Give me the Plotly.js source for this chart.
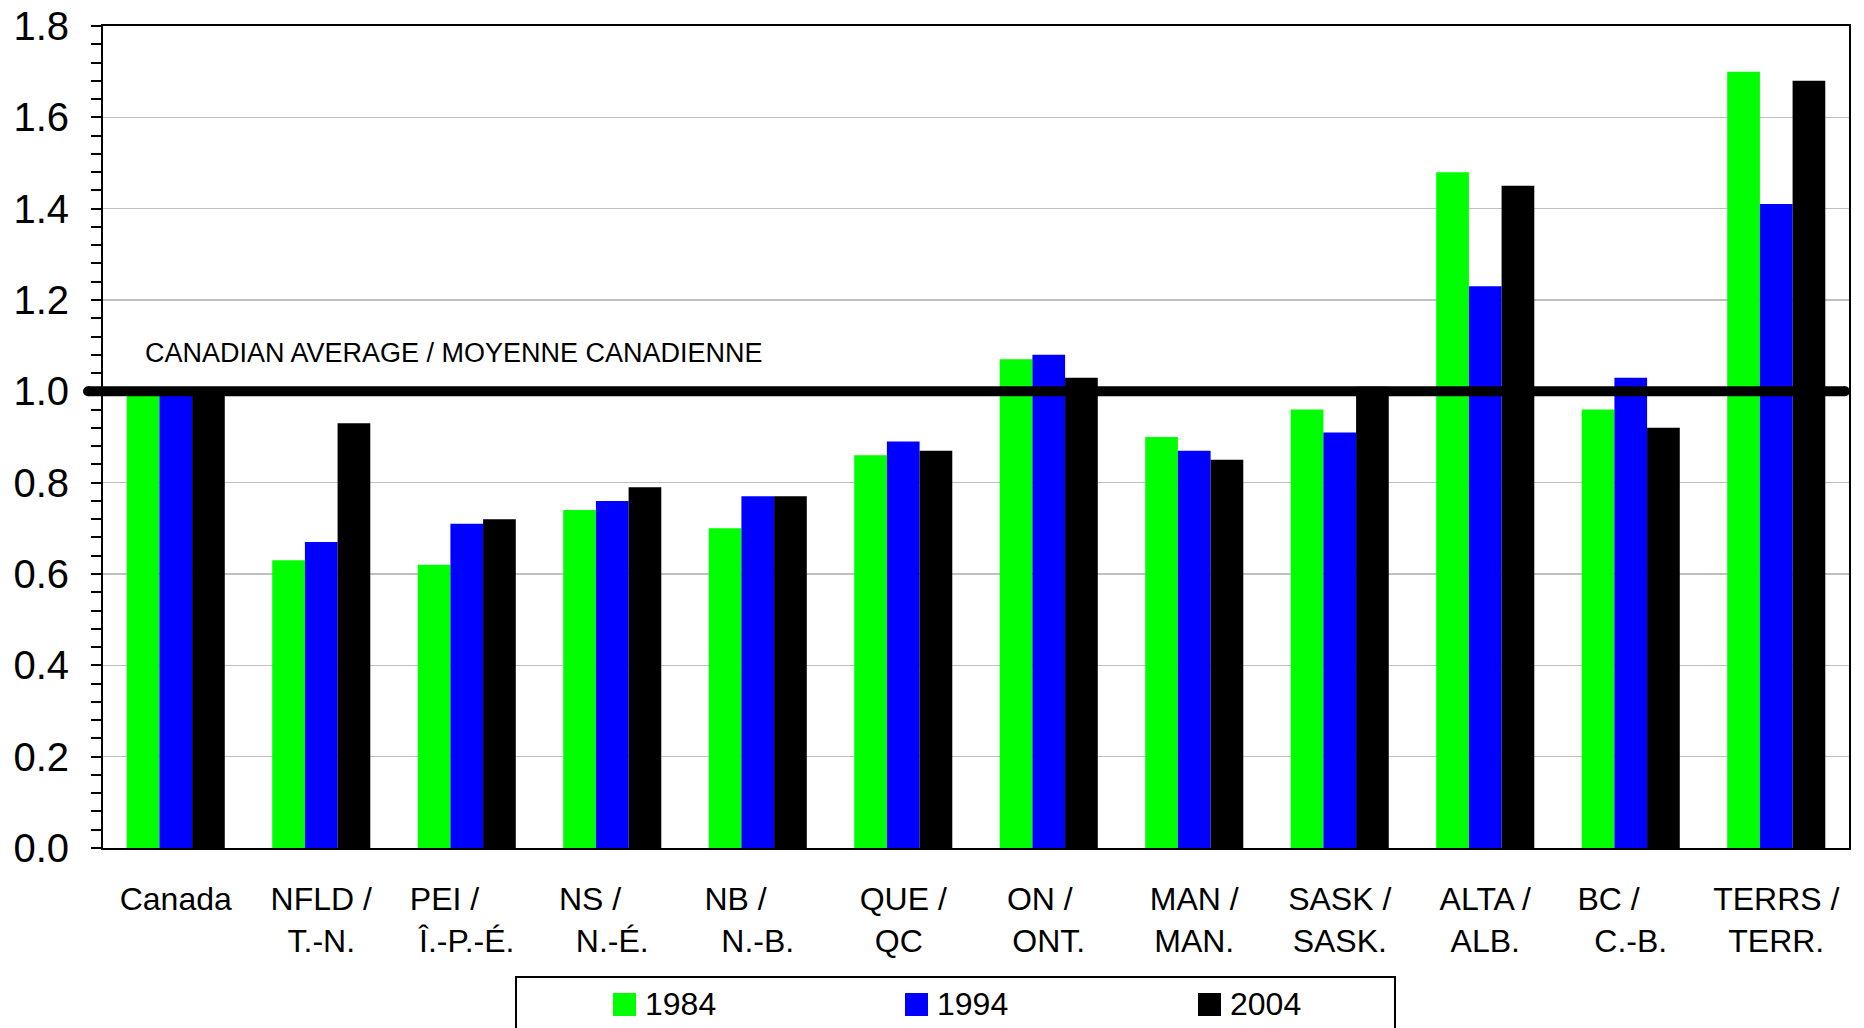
<!DOCTYPE html>
<html>
<head>
<meta charset="utf-8">
<script src="https://cdn.plot.ly/plotly-3.0.1.min.js"></script>
<style>
  html, body { margin: 0; padding: 0; background: #ffffff; }
  #chart { width: 1864px; height: 1028px; }
</style>
</head>
<body>
<div id="chart"></div>
<script>
// ---- data ----
var NB = '\u00a0';
var categories = [
  'Canada',
  'NFLD /<br>T.-N.',
  'PEI /' + NB.repeat(5) + '<br>Î.-P.-É.',
  'NS /' + NB.repeat(5) + '<br>N.-É.',
  'NB /' + NB.repeat(5) + '<br>N.-B.',
  'QUE /<br>QC' + NB.repeat(1),
  'ON /' + NB.repeat(2) + '<br>ONT.',
  'MAN /<br>MAN.',
  'SASK /<br>SASK.',
  'ALTA /<br>ALB.',
  'BC /' + NB.repeat(5) + '<br>C.-B.',
  'TERRS /<br>TERR.'
];
var seriesNames = ['1984', '1994', '2004'];
var v1984 = [1.00, 0.63, 0.62, 0.74, 0.70, 0.86, 1.07, 0.90, 0.96, 1.48, 0.96, 1.70];
var v1994 = [1.00, 0.67, 0.71, 0.76, 0.77, 0.89, 1.08, 0.87, 0.91, 1.23, 1.03, 1.41];
var v2004 = [1.00, 0.93, 0.72, 0.79, 0.77, 0.87, 1.03, 0.85, 1.01, 1.45, 0.92, 1.68];
var averageValue = 1.0;
var averageLabel = 'CANADIAN AVERAGE / MOYENNE CANADIENNE';
var yTickVals = [0, 0.2, 0.4, 0.6, 0.8, 1.0, 1.2, 1.4, 1.6, 1.8];

// ---- styling / layout ----
var colors = ['#00ff00', '#0000ff', '#000000'];
var FONT = 'Liberation Sans, Arial, Helvetica, sans-serif';
var W = 1864, H = 1028;
var M = {l: 103, r: 15, t: 26, b: 180};
var PW = W - M.l - M.r, PH = H - M.t - M.b;
function px2x(px) { return (px - M.l) / PW; }
function px2y(py) { return (H - M.b - py) / PH; }

var allSeries = [v1984, v1994, v2004];
var traces = allSeries.map(function (vals, i) {
  return {
    type: 'bar',
    name: seriesNames[i],
    x: categories,
    y: vals,
    marker: {color: colors[i], line: {width: 0}},
    showlegend: false,
    hoverinfo: 'x+y+name'
  };
});

var shapes = [
  // average line
  {type: 'line', xref: 'paper', yref: 'y', x0: px2x(88), x1: px2x(1845),
   y0: averageValue, y1: averageValue, line: {color: '#000000', width: 10}, layer: 'above'},
  {type: 'circle', xref: 'paper', yref: 'y', xsizemode: 'pixel', ysizemode: 'pixel',
   xanchor: px2x(88), yanchor: averageValue, x0: -5, x1: 5, y0: -5, y1: 5,
   fillcolor: '#000000', line: {width: 0}, layer: 'above'},
  {type: 'circle', xref: 'paper', yref: 'y', xsizemode: 'pixel', ysizemode: 'pixel',
   xanchor: px2x(1845), yanchor: averageValue, x0: -5, x1: 5, y0: -5, y1: 5,
   fillcolor: '#000000', line: {width: 0}, layer: 'above'},
  // legend box
  {type: 'rect', xref: 'paper', yref: 'paper', x0: px2x(516), x1: px2x(1395),
   y0: px2y(1045), y1: px2y(977), line: {color: '#000000', width: 2}, fillcolor: 'rgba(0,0,0,0)'}
];

var annotations = [
  {xref: 'paper', yref: 'paper', x: px2x(143), y: px2y(353), xanchor: 'left', yanchor: 'middle',
   text: averageLabel, showarrow: false, font: {family: FONT, size: 27, color: '#000000'}}
];

var legendX = [613, 905, 1198];
seriesNames.forEach(function (name, i) {
  shapes.push({type: 'rect', xref: 'paper', yref: 'paper',
    x0: px2x(legendX[i]), x1: px2x(legendX[i] + 23), y0: px2y(1016), y1: px2y(993),
    fillcolor: colors[i], line: {width: 0}});
  annotations.push({xref: 'paper', yref: 'paper', x: px2x(legendX[i] + 30), y: px2y(1004),
    xanchor: 'left', yanchor: 'middle', text: name, showarrow: false,
    font: {family: FONT, size: 32, color: '#000000'}});
});

var layout = {
  width: W, height: H,
  margin: {l: M.l, r: M.r, t: M.t, b: M.b, pad: 0, autoexpand: false},
  paper_bgcolor: '#ffffff',
  plot_bgcolor: '#ffffff',
  font: {family: FONT, color: '#000000'},
  barmode: 'group',
  bargap: 0.326,
  bargroupgap: 0,
  showlegend: false,
  xaxis: {
    type: 'category',
    showline: true, linecolor: '#000000', linewidth: 2, mirror: true,
    ticks: '', showgrid: false, zeroline: false,
    tickfont: {family: FONT, size: 32, color: '#000000'},
    ticklabelstandoff: 22,
    fixedrange: true
  },
  yaxis: {
    range: [0, 1.8],
    tickvals: yTickVals,
    ticktext: yTickVals.map(function (v) { return v.toFixed(1); }),
    ticks: 'outside', ticklen: 10, tickwidth: 2, tickcolor: '#000000',
    minor: {dtick: 0.04, tick0: 0, ticks: 'outside', ticklen: 10, tickwidth: 2,
            tickcolor: '#000000', showgrid: false},
    showgrid: true, gridcolor: '#c0c0c0', gridwidth: 1.5,
    showline: true, linecolor: '#000000', linewidth: 2, mirror: true,
    zeroline: false,
    tickfont: {family: FONT, size: 40, color: '#000000'},
    ticklabelstandoff: 14,
    fixedrange: true
  },
  shapes: shapes,
  annotations: annotations
};

Plotly.newPlot('chart', traces, layout, {displayModeBar: false, staticPlot: true});
</script>
</body>
</html>
